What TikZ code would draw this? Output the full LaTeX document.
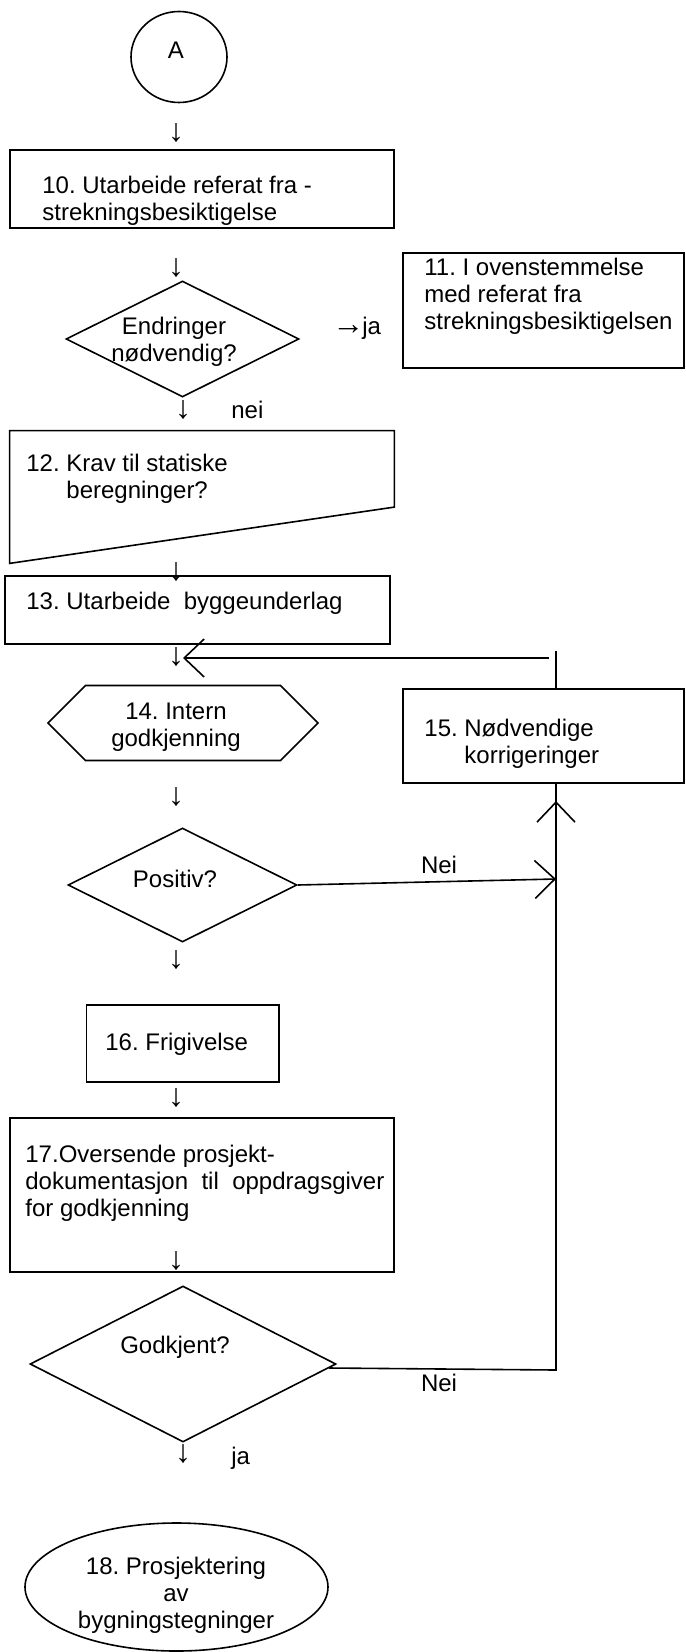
\documentclass[tikz,border=0pt]{standalone}
\usepackage{fontspec}
\setmainfont{Liberation Sans}
\usetikzlibrary{shapes.geometric,shapes.symbols,arrows.meta,calc}
\frenchspacing

\begin{document}
\begin{tikzpicture}[x=0.5pt, y=-0.5pt,
    every node/.style={font=\fontsize{12pt}{13.5pt}\selectfont},
    shapeline/.style={draw, line width=0.8pt, inner sep=0pt},
    stepbox/.style={shapeline, rectangle},
    decision/.style={shapeline, diamond},
    txt/.style={inner sep=0pt, align=left},
    glyph/.style={inner sep=0pt, font=\fontsize{16pt}{16pt}\selectfont},
    flow/.style={line width=0.8pt},
    barb/.style={flow, -{Straight Barb[length=10pt, width=19pt]}}]
    \useasboundingbox (0,0) rectangle (685,1652);

    % Start connector
    \node[shapeline, ellipse, minimum width=48pt, minimum height=45.5pt] (nA) at (179,57) {};
    \node[txt] (tA) at (176,50) {A};
    \node[glyph] (a1) at (176,133) {↓};

    % 10 and the check for changes
    \node[stepbox, minimum width=192pt, minimum height=39pt] (n10) at (202,189) {};
    \node[txt, anchor=west] (t10) at (42,201) {10. Utarbeide referat fra -\\strekningsbesiktigelse};
    \node[glyph] (a2) at (176,268) {↓};
    \node[decision, minimum width=116.5pt, minimum height=58pt] (d1) at (182.5,339) {};
    \node[txt, align=center] (td1) at (174,342) {Endringer\\nødvendig?};
    \node[txt, anchor=west] (tja1) at (332,328) {{\fontsize{16pt}{16pt}\selectfont →}\kern-1pt ja};
    \node[stepbox, minimum width=140.5pt, minimum height=57.5pt] (n11) at (543.5,310.5) {};
    \node[txt, anchor=west] (t11) at (424,296) {11. I ovenstemmelse\\med referat fra\\strekningsbesiktigelsen};
    \node[glyph] (a3) at (183,410) {↓};
    \node[txt, anchor=west] (tnei1) at (231,410) {nei};

    % 12 with the slanted lower edge
    \node[minimum width=192pt, minimum height=66pt, inner sep=0pt] (n12) at (202,497) {};
    \draw[flow] (n12.north west) -- (n12.north east)
        -- ($(n12.north east)!0.576!(n12.south east)$) -- (n12.south west) -- cycle;
    \node[txt, anchor=west] (t12) at (26,479) {12. Krav til statiske\\\phantom{12. }beregninger?};
    \node[glyph] (a4) at (176,572) {↓};

    % 13 and the way back from 15
    \node[stepbox, minimum width=192.5pt, minimum height=34pt] (n13) at (197.5,610) {};
    \node[txt, anchor=west] (t13) at (26,603) {13. Utarbeide\ \ byggeunderlag};
    \node[glyph] (a5) at (176,657) {↓};
    \coordinate (c13ret) at (183,658);
    \coordinate (c15ret) at (549,658);
    \coordinate (c15top) at (556,651);

    % 14 and 15
    \node[shapeline, signal, signal to=east and west, signal pointer angle=90,
        minimum width=135pt, minimum height=37.5pt] (n14) at (183,723) {};
    \node[txt, align=center] (t14) at (176,727) {14. Intern\\godkjenning};
    \node[stepbox, minimum width=140.5pt, minimum height=47pt] (n15) at (543.5,736) {};
    \node[txt, anchor=west] (t15) at (424,744) {15. Nødvendige\\\phantom{15. }korrigeringer};
    \node[glyph] (a6) at (176,797) {↓};

    % Positive check
    \node[decision, minimum width=114.5pt, minimum height=57pt] (d2) at (182.5,885) {};
    \node[txt] (td2) at (175,879) {Positiv?};
    \node[txt] (tnei2) at (439,865) {Nei};
    \coordinate (jpos) at (556,879);
    \coordinate (jup) at (556,801);
    \node[glyph] (a7) at (176,960) {↓};

    % 16 and 17
    \node[stepbox, minimum width=96.25pt, minimum height=38.5pt] (n16) at (182.75,1043.5) {};
    \node[txt, anchor=west] (t16) at (105,1044) {16. Frigivelse};
    \node[glyph] (a8) at (176,1098) {↓};
    \node[stepbox, minimum width=192pt, minimum height=77pt] (n17) at (202,1195) {};
    \node[txt, anchor=west] (t17) at (25,1183) {17.Oversende prosjekt-\\\makebox[179.5pt][s]{dokumentasjon til oppdragsgiver}\\for godkjenning};
    \node[glyph] (a9) at (176,1261) {↓};

    % Approval by the client
    \node[decision, minimum width=153pt, minimum height=78pt] (d3) at (183,1364) {};
    \node[txt] (td3) at (175,1347) {Godkjent?};
    \node[txt] (tnei3) at (439,1383) {Nei};
    \coordinate (jgod) at (556,1370);
    \node[glyph] (a10) at (183,1454) {↓};
    \node[txt, anchor=west] (tja2) at (231,1458) {ja};

    % End
    \node[shapeline, ellipse, minimum width=151.5pt, minimum height=64pt] (n18) at (176.5,1587) {};
    \node[txt, align=center] (t18) at (176,1595) {18. Prosjektering\\av\\bygningstegninger};

    % Loop back to 13
    \draw[flow] ($(d3.east)+(-8,4)$) -- (jgod) -- (jgod |- n15.south);
    \draw[barb] (d2.east) -- (jpos);
    \draw[barb] (jpos) -- (jup);
    \draw[flow] (c15top |- n15.north) -- (c15top);
    \draw[barb] (c15ret) -- (c13ret);
\end{tikzpicture}
\end{document}
